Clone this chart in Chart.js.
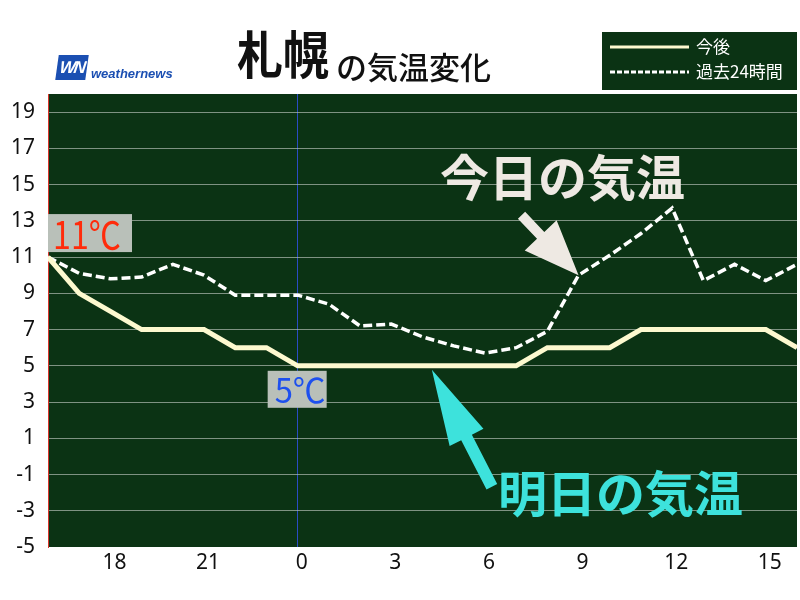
<!DOCTYPE html>
<html lang="ja">
<head>
<meta charset="utf-8">
<script src="https://cdn.jsdelivr.net/npm/chart.js@4.4.1/dist/chart.umd.min.js"></script>
<style>
  html, body { margin: 0; padding: 0; background: #fff; }
  #wrap { position: relative; width: 800px; height: 600px; overflow: hidden; }
  #grafico { position: absolute; left: 0; top: 0; }
  .titulo { position: absolute; white-space: nowrap; font-family: "Noto Sans CJK JP", sans-serif; color: #111; line-height: 1; }
  #ciudad { left: 237px; top: 27px; font-size: 51px; font-weight: 700; transform: scaleX(0.9); transform-origin: left top; }
  #subtitulo { left: 336px; top: 50px; font-size: 31px; font-weight: 500; }
  #logo-caja { position: absolute; left: 57px; top: 55px; width: 30px; height: 25px; background: #1b4fb2;
               transform: skewX(-8deg); color: #fff; font: italic 700 17px "Liberation Sans", sans-serif;
               line-height: 25px; text-align: center; letter-spacing: -2px; }
  #logo-texto { position: absolute; left: 91px; top: 66px; color: #1b4fb2; font: italic 700 13px "Liberation Sans", sans-serif; }
</style>
</head>
<body>
<div id="wrap">
  <canvas id="grafico" width="800" height="600"></canvas>
  <div class="titulo" id="ciudad">札幌</div>
  <div class="titulo" id="subtitulo">の気温変化</div>
  <div id="logo-caja">WN</div>
  <div id="logo-texto">weathernews</div>
</div>
<script>
// horas: 16時(前日) から 16時(翌日)
const horas = [16, 17, 18, 19, 20, 21, 22, 23, 24, 25, 26, 27, 28, 29, 30, 31, 32, 33, 34, 35, 36, 37, 38, 39, 40];

// 今後 (予想)
const tempFuturo = [11, 9, 8, 7, 7, 7, 6, 6, 5, 5, 5, 5, 5, 5, 5, 5, 6, 6, 6, 7, 7, 7, 7, 7, 6];

// 過去24時間
const tempPasado = [11.0, 10.1, 9.8, 9.9, 10.6, 10.0, 8.9, 8.9, 8.9, 8.4, 7.2, 7.3, 6.6, 6.1, 5.7, 6.0, 6.9, 10.0, 11.1, 12.3, 13.7, 9.7, 10.6, 9.7, 10.6];

const xTicks = [18, 21, 24, 27, 30, 33, 36, 39];
const xTickLabels = ['18', '21', '0', '3', '6', '9', '12', '15'];
const yTicks = [-5, -3, -1, 1, 3, 5, 7, 9, 11, 13, 15, 17, 19];

const VERDE = '#0b3314';
const CREMA = '#fdf9cf';

function dibujarFlecha(ctx, sx, sy, tx, ty, ancho, anchoPunta, largoPunta, color) {
    const dx = tx - sx, dy = ty - sy;
    const len = Math.hypot(dx, dy);
    const ux = dx / len, uy = dy / len;
    const nx = -uy, ny = ux;
    const hx = tx - ux * largoPunta, hy = ty - uy * largoPunta;
    ctx.beginPath();
    ctx.moveTo(sx + nx * ancho, sy + ny * ancho);
    ctx.lineTo(hx + nx * ancho, hy + ny * ancho);
    ctx.lineTo(hx + nx * anchoPunta, hy + ny * anchoPunta);
    ctx.lineTo(tx, ty);
    ctx.lineTo(hx - nx * anchoPunta, hy - ny * anchoPunta);
    ctx.lineTo(hx - nx * ancho, hy - ny * ancho);
    ctx.lineTo(sx - nx * ancho, sy - ny * ancho);
    ctx.closePath();
    ctx.fillStyle = color;
    ctx.fill();
}

// fondo verde del area
const fondoPlugin = {
    id: 'fondo',
    beforeDraw(chart) {
        const { ctx, chartArea: a } = chart;
        ctx.save();
        ctx.fillStyle = VERDE;
        ctx.fillRect(a.left, a.top, a.right - a.left, a.bottom - a.top);
        ctx.restore();
    }
};

// etiquetas, flechas y leyenda
const anotacionesPlugin = {
    id: 'anotaciones',
    afterDatasetsDraw(chart) {
        const { ctx } = chart;
        const xs = chart.scales.x, ys = chart.scales.y;
        ctx.save();

        // 11℃ (inicio)
        const x0 = xs.getPixelForValue(horas[0]);
        const y0 = ys.getPixelForValue(tempFuturo[0]);
        ctx.fillStyle = '#b9c0b9';
        ctx.fillRect(x0, y0 - 43, 84, 38);
        ctx.fillStyle = '#ff2b0b';
        ctx.font = '38px "Noto Sans CJK JP"';
        ctx.textBaseline = 'middle';
        ctx.textAlign = 'left';
        ctx.fillText(tempFuturo[0] + '℃', x0 + 5, y0 - 23, 68);

        // 5℃ (0時)
        const xm = xs.getPixelForValue(24);
        const ym = ys.getPixelForValue(tempFuturo[8]);
        ctx.fillStyle = '#b9c0b9';
        ctx.fillRect(xm - 30, ym + 5, 59, 37);
        ctx.fillStyle = '#1d50ee';
        ctx.font = '34px "Noto Sans CJK JP"';
        ctx.fillText(tempFuturo[8] + '℃', xm - 23, ym + 24, 51);

        // 今日の気温
        const tx1 = xs.getPixelForValue(horas[17]);
        const ty1 = ys.getPixelForValue(tempPasado[17]);
        dibujarFlecha(ctx, tx1 - 57, ty1 - 60, tx1, ty1, 5, 22, 55, '#eee9e3');
        ctx.fillStyle = '#eee9e3';
        ctx.font = '700 49px "Noto Sans CJK JP"';
        ctx.fillText('今日の気温', 440, 177);

        // 明日の気温
        const tx2 = xs.getPixelForValue(28.3);
        const ty2 = ys.getPixelForValue(5) + 4;
        dibujarFlecha(ctx, tx2 + 60, ty2 + 117, tx2, ty2, 6, 19, 76, '#3de2dc');
        ctx.fillStyle = '#3de2dc';
        ctx.fillText('明日の気温', 498, 493);

        ctx.restore();
    },
    afterDraw(chart) {
        const { ctx } = chart;
        const ds = chart.data.datasets;
        ctx.save();
        ctx.fillStyle = VERDE;
        ctx.fillRect(602, 32, 195, 58);
        ctx.lineWidth = 3;
        ctx.strokeStyle = CREMA;
        ctx.beginPath();
        ctx.moveTo(610, 47);
        ctx.lineTo(689, 47);
        ctx.stroke();
        ctx.strokeStyle = '#ffffff';
        ctx.setLineDash([5, 2]);
        ctx.beginPath();
        ctx.moveTo(610, 72);
        ctx.lineTo(689, 72);
        ctx.stroke();
        ctx.setLineDash([]);
        ctx.fillStyle = '#ffffff';
        ctx.font = '17px "Noto Sans CJK JP"';
        ctx.textBaseline = 'middle';
        ctx.fillText(ds[0].label, 696, 47);
        ctx.fillText(ds[1].label, 696, 72);
        ctx.restore();
    }
};

function crearGrafico() {
    const ctx = document.getElementById('grafico');

    new Chart(ctx, {
        type: 'line',
        data: {
            datasets: [{
                label: '今後',
                data: horas.map((h, i) => ({ x: h, y: tempFuturo[i] })),
                borderColor: CREMA,
                borderWidth: 5,
                pointRadius: 0,
                tension: 0,
                borderJoinStyle: 'miter'
            }, {
                label: '過去24時間',
                data: horas.map((h, i) => ({ x: h, y: tempPasado[i] })),
                borderColor: '#ffffff',
                borderWidth: 3.5,
                borderDash: [9, 4],
                pointRadius: 0,
                tension: 0
            }]
        },
        options: {
            responsive: false,
            animation: false,
            devicePixelRatio: 1,
            layout: { padding: { top: 94, right: 3, left: 0, bottom: 0 } },
            plugins: {
                legend: { display: false },
                tooltip: { enabled: false }
            },
            scales: {
                x: {
                    type: 'linear',
                    min: 16,
                    max: 40,
                    afterBuildTicks: scale => { scale.ticks = xTicks.map(v => ({ value: v })); },
                    afterFit: scale => { scale.height = 53; },
                    ticks: {
                        callback: (v, i) => xTickLabels[i],
                        color: '#111',
                        font: { family: 'Noto Sans', size: 21 },
                        padding: 3,
                        labelOffset: 4,
                        maxRotation: 0
                    },
                    grid: {
                        drawTicks: false,
                        color: c => (c.tick && c.tick.value === 24 ? '#2a4cc4' : 'rgba(0,0,0,0)'),
                        lineWidth: 1
                    },
                    border: { display: false }
                },
                y: {
                    min: -5,
                    max: 20,
                    afterBuildTicks: scale => { scale.ticks = yTicks.map(v => ({ value: v })); },
                    afterFit: scale => { scale.width = 48; },
                    ticks: {
                        color: '#111',
                        font: { family: 'Noto Sans', size: 21 },
                        padding: 13
                    },
                    grid: {
                        drawTicks: false,
                        color: c => (c.tick && c.tick.value === -5 ? 'rgba(0,0,0,0)' : 'rgba(190,200,190,0.65)'),
                        lineWidth: 1
                    },
                    border: { display: true, color: '#d9342b', width: 1 }
                }
            }
        },
        plugins: [fondoPlugin, anotacionesPlugin]
    });
}

document.addEventListener('DOMContentLoaded', crearGrafico);
</script>
</body>
</html>
